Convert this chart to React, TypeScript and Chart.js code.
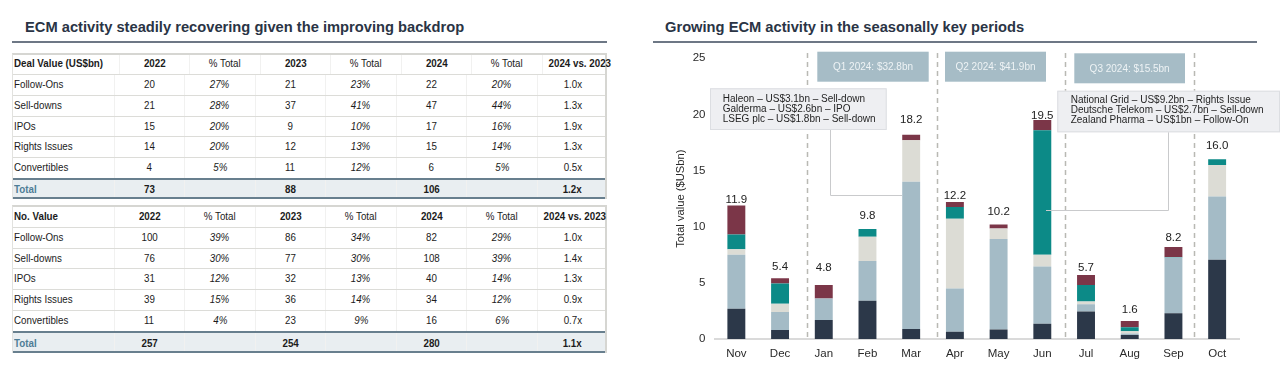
import React, { useEffect, useRef } from 'react';
import { Chart, registerables } from 'chart.js';
Chart.register(...registerables);

// ---------- Chart data ----------
const months = ['Nov', 'Dec', 'Jan', 'Feb', 'Mar', 'Apr', 'May', 'Jun', 'Jul', 'Aug', 'Sep', 'Oct'];
const followOns = [2.7, 0.8, 1.7, 3.4, 0.9, 0.65, 0.85, 1.35, 2.45, 0.35, 2.3, 7.05];
const sellDowns = [4.8, 1.6, 1.9, 3.55, 13.1, 3.85, 8.05, 5.1, 0.65, 0.15, 4.95, 5.65];
const ipos = [0.5, 0.75, 0, 2.15, 3.7, 6.2, 0.95, 1.05, 0.25, 0.2, 0, 2.8];
const rightsIssues = [1.3, 1.8, 0, 0.7, 0, 1.05, 0, 11.1, 1.45, 0.35, 0.05, 0.5];
const convertibles = [2.6, 0.45, 1.2, 0, 0.5, 0.45, 0.35, 0.9, 0.9, 0.55, 0.9, 0];
const totalLabels = ['11.9', '5.4', '4.8', '9.8', '18.2', '12.2', '10.2', '19.5', '5.7', '1.6', '8.2', '16.0'];
const yTicks = [0, 5, 10, 15, 20, 25];
const quarterLabels = ['Q1 2024: $32.8bn', 'Q2 2024: $41.9bn', 'Q3 2024: $15.5bn'];
const leftNotes = ['Haleon – US$3.1bn – Sell-down', 'Galderma – US$2.6bn – IPO', 'LSEG plc – US$1.8bn – Sell-down'];
const rightNotes = ['National Grid – US$9.2bn – Rights Issue', 'Deutsche Telekom – US$2.7bn – Sell-down', 'Zealand Pharma – US$1bn – Follow-On'];

// ---------- Table data ----------
const rowNames = ['Follow-Ons', 'Sell-downs', 'IPOs', 'Rights Issues', 'Convertibles'];
const dealV2022 = ['20', '21', '15', '14', '4'];
const dealP2022 = ['27%', '28%', '20%', '20%', '5%'];
const dealV2023 = ['21', '37', '9', '12', '11'];
const dealP2023 = ['23%', '41%', '10%', '13%', '12%'];
const dealV2024 = ['22', '47', '17', '15', '6'];
const dealP2024 = ['20%', '44%', '16%', '14%', '5%'];
const dealRatio = ['1.0x', '1.3x', '1.9x', '1.3x', '0.5x'];
const dealTotals = ['73', '88', '106', '1.2x'];

const noV2022 = ['100', '76', '31', '39', '11'];
const noP2022 = ['39%', '30%', '12%', '15%', '4%'];
const noV2023 = ['86', '77', '32', '36', '23'];
const noP2023 = ['34%', '30%', '13%', '14%', '9%'];
const noV2024 = ['82', '108', '40', '34', '16'];
const noP2024 = ['29%', '39%', '14%', '12%', '6%'];
const noRatio = ['1.0x', '1.4x', '1.3x', '0.9x', '0.7x'];
const noTotals = ['257', '254', '280', '1.1x'];

// ---------- Styles ----------
const SANS = '"Liberation Sans", Arial, sans-serif';
const colors = {
  followOns: '#2c3849',
  sellDowns: '#a4bbc6',
  ipos: '#dcdcd5',
  rights: '#0c8a87',
  conv: '#7b3648',
};
const labelGap = [2.5, 8.5, 14.5, 10, 11.5, 3.5, 9.5, 1, 4.5, 8.5, 5.5, 10];
const dividerIdx = [1.62, 4.58, 7.53, 10.46];

const colW = [100.7, 70.5, 70.5, 70.5, 70.5, 70.5, 70.5, 70.5];

type TableProps = {
  top: number;
  head: string;
  headH: number;
  rowH: number;
  totalH: number;
  v22: string[]; p22: string[]; v23: string[]; p23: string[]; v24: string[]; p24: string[]; ratio: string[];
  totals: string[];
};

function DataTable(p: TableProps) {
  const cell = (txt: string, i: number, extra: React.CSSProperties = {}) => (
    <div
      key={i}
      style={{
        flex: `0 0 ${colW[i]}px`,
        boxSizing: 'border-box',
        textAlign: i === 0 ? 'left' : 'center',
        paddingLeft: i === 0 ? 1 : 0,
        borderLeft: i === 0 ? 'none' : '1px solid #f1f1f0',
        whiteSpace: 'nowrap',
        overflow: 'visible',
        ...extra,
      }}
    >
      <span
        style={{
          display: 'inline-block',
          transform: 'scaleX(0.85)',
          transformOrigin: i === 0 ? 'left center' : 'center center',
        }}
      >
        {txt}
      </span>
    </div>
  );
  const rowStyle = (h: number, extra: React.CSSProperties = {}): React.CSSProperties => ({
    display: 'flex',
    height: h,
    lineHeight: `${h - 1.5}px`,
    boxSizing: 'border-box',
    ...extra,
  });
  return (
    <div
      style={{
        position: 'absolute',
        left: 12,
        top: p.top,
        width: 595,
        fontFamily: SANS,
        fontSize: 11.5,
        color: '#1b1b1b',
        borderTop: '2px solid #d6d6d2',
        borderLeft: '1px solid #e2e2df',
        borderRight: '2px solid #d6d6d2',
        boxSizing: 'border-box',
      }}
    >
      <div style={rowStyle(p.headH - 2)}>
        {cell(p.head, 0, { fontWeight: 'bold' })}
        {cell('2022', 1, { fontWeight: 'bold' })}
        {cell('% Total', 2)}
        {cell('2023', 3, { fontWeight: 'bold' })}
        {cell('% Total', 4)}
        {cell('2024', 5, { fontWeight: 'bold' })}
        {cell('% Total', 6)}
        {cell('2024 vs. 2023', 7, { fontWeight: 'bold' })}
      </div>
      {rowNames.map((name, r) => (
        <div key={name} style={rowStyle(p.rowH, { borderTop: '1.5px solid #dcdcd8' })}>
          {cell(name, 0)}
          {cell(p.v22[r], 1)}
          {cell(p.p22[r], 2, { fontStyle: 'italic' })}
          {cell(p.v23[r], 3)}
          {cell(p.p23[r], 4, { fontStyle: 'italic' })}
          {cell(p.v24[r], 5)}
          {cell(p.p24[r], 6, { fontStyle: 'italic' })}
          {cell(p.ratio[r], 7)}
        </div>
      ))}
      <div
        style={rowStyle(p.totalH, {
          borderTop: '2px solid #687f8e',
          borderBottom: '2px solid #687f8e',
          background: '#e9eef1',
          fontWeight: 'bold',
        })}
      >
        {cell('Total', 0, { color: '#4e7d96' })}
        {cell(p.totals[0], 1)}
        {cell('', 2)}
        {cell(p.totals[1], 3)}
        {cell('', 4)}
        {cell(p.totals[2], 5)}
        {cell('', 6)}
        {cell(p.totals[3], 7)}
      </div>
    </div>
  );
}

const overlayPlugin = {
  id: 'overlay',
  beforeDatasetsDraw(chart: any) {
    const { ctx, scales } = chart;
    const x = scales.x;
    ctx.save();
    ctx.strokeStyle = '#b9b9b3';
    ctx.lineWidth = 1.5;
    ctx.setLineDash([5, 4]);
    dividerIdx.forEach((d) => {
      const px = Math.round(x.getPixelForValue(d)) + 0.5;
      ctx.beginPath();
      ctx.moveTo(px, 53);
      ctx.lineTo(px, 338);
      ctx.stroke();
    });
    ctx.restore();
  },
  afterDatasetsDraw(chart: any) {
    const { ctx, scales } = chart;
    const x = scales.x;
    const y = scales.y;
    ctx.save();
    // connectors
    ctx.strokeStyle = '#c9cacc';
    ctx.lineWidth = 1;
    ctx.beginPath();
    ctx.moveTo(180.5, 130);
    ctx.lineTo(180.5, 195.5);
    ctx.lineTo(252, 195.5);
    ctx.stroke();
    ctx.beginPath();
    ctx.moveTo(518.5, 132);
    ctx.lineTo(518.5, 210.5);
    ctx.lineTo(396, 210.5);
    ctx.stroke();

    // quarter boxes
    const qBoxes = [
      [167.3, 51.7, 111.4, 30],
      [295, 51.7, 101, 30],
      [424.3, 53.3, 110.7, 30],
    ];
    ctx.font = `10px ${SANS}`;
    ctx.textAlign = 'center';
    ctx.textBaseline = 'middle';
    qBoxes.forEach((b, i) => {
      ctx.fillStyle = '#a6bcc6';
      ctx.fillRect(b[0], b[1], b[2], b[3]);
      ctx.fillStyle = '#eef3f5';
      ctx.fillText(quarterLabels[i], b[0] + b[2] / 2, b[1] + b[3] / 2 + 0.5);
    });

    // note boxes
    const drawNote = (bx: number, by: number, bw: number, bh: number, tx: number, lines: string[], ly: number[]) => {
      ctx.fillStyle = '#eeeff2';
      ctx.fillRect(bx, by, bw, bh);
      ctx.strokeStyle = '#dcdee2';
      ctx.lineWidth = 1;
      ctx.strokeRect(bx + 0.5, by + 0.5, bw - 1, bh - 1);
      ctx.fillStyle = '#1f1f1f';
      ctx.textAlign = 'left';
      ctx.textBaseline = 'middle';
      ctx.font = `10px ${SANS}`;
      lines.forEach((t, i) => ctx.fillText(t, tx, ly[i]));
    };
    drawNote(60, 88.3, 176.7, 41.7, 72.7, leftNotes, [98.9, 109.2, 119.3]);
    drawNote(407.3, 90.7, 222.7, 41.6, 420.7, rightNotes, [99.9, 110.2, 120.3]);

    // totals
    ctx.fillStyle = '#222';
    ctx.font = `11.5px ${SANS}`;
    ctx.textAlign = 'center';
    ctx.textBaseline = 'alphabetic';
    months.forEach((_, i) => {
      const sum = followOns[i] + sellDowns[i] + ipos[i] + rightsIssues[i] + convertibles[i];
      const px = x.getPixelForValue(i);
      const py = y.getPixelForValue(sum) - labelGap[i];
      ctx.fillText(totalLabels[i], px, py);
    });
    ctx.restore();
  },
};

export default function App() {
  const ref = useRef<HTMLCanvasElement>(null);
  useEffect(() => {
    if (!ref.current) return;
    const ds = (label: string, data: number[], color: string) => ({
      label,
      data,
      backgroundColor: color,
      borderWidth: 0,
      barPercentage: 0.41,
      categoryPercentage: 1,
    });
    const chart = new Chart(ref.current, {
      type: 'bar',
      data: {
        labels: months,
        datasets: [
          ds('Follow-Ons', followOns, colors.followOns),
          ds('Sell-downs', sellDowns, colors.sellDowns),
          ds('IPOs', ipos, colors.ipos),
          ds('Rights Issues', rightsIssues, colors.rights),
          ds('Convertibles', convertibles, colors.conv),
        ],
      },
      options: {
        responsive: false,
        animation: false,
        devicePixelRatio: 1,
        layout: { padding: { left: 0, right: 49, top: 58.3, bottom: 0 } },
        plugins: { legend: { display: false }, tooltip: { enabled: false } },
        scales: {
          x: {
            stacked: true,
            grid: { display: false, drawTicks: false, tickLength: 0 },
            border: { display: true, color: '#dadada', width: 2 },
            ticks: { color: '#2a2a2a', font: { size: 11.5, family: SANS }, padding: 8 },
            afterFit: (s: any) => {
              s.height = 41;
            },
          },
          y: {
            stacked: true,
            min: 0,
            max: 25,
            afterBuildTicks: (s: any) => {
              s.ticks = yTicks.map((v) => ({ value: v }));
            },
            grid: { display: false, drawTicks: false, tickLength: 0 },
            border: { display: false },
            ticks: { color: '#2a2a2a', font: { size: 11.5, family: SANS }, padding: 9 },
            title: {
              display: true,
              text: 'Total value ($USbn)',
              color: '#2a2a2a',
              font: { size: 11.2, family: SANS },
              padding: { top: 24, bottom: 0 },
            },
            afterFit: (s: any) => {
              s.width = 64.5;
            },
          },
        },
      },
      plugins: [overlayPlugin],
    } as any);
    return () => chart.destroy();
  }, []);

  const titleStyle: React.CSSProperties = {
    position: 'absolute',
    top: 19,
    fontFamily: SANS,
    fontWeight: 'bold',
    fontSize: 14.7,
    lineHeight: '16px',
    color: '#2a3445',
    whiteSpace: 'nowrap',
  };

  return (
    <div
      style={{
        position: 'fixed',
        left: 0,
        top: 0,
        width: 1288,
        height: 380,
        background: '#ffffff',
        overflow: 'hidden',
      }}
    >
      <div style={{ ...titleStyle, left: 25 }}>ECM activity steadily recovering given the improving backdrop</div>
      <div style={{ position: 'absolute', left: 12, top: 41, width: 595, height: 1.5, background: '#6d7785' }} />
      <DataTable
        top={53.3}
        head="Deal Value (US$bn)"
        headH={20.8}
        rowH={20.8}
        totalH={20.8}
        v22={dealV2022} p22={dealP2022} v23={dealV2023} p23={dealP2023} v24={dealV2024} p24={dealP2024}
        ratio={dealRatio}
        totals={dealTotals}
      />
      <DataTable
        top={205}
        head="No. Value"
        headH={21.7}
        rowH={20.86}
        totalH={21.7}
        v22={noV2022} p22={noP2022} v23={noV2023} p23={noP2023} v24={noV2024} p24={noP2024}
        ratio={noRatio}
        totals={noTotals}
      />
      <div style={{ ...titleStyle, left: 665 }}>Growing ECM activity in the seasonally key periods</div>
      <div style={{ position: 'absolute', left: 652.7, top: 41, width: 604.3, height: 1.5, background: '#6d7785' }} />
      <canvas
        ref={ref}
        width={638}
        height={380}
        style={{ position: 'absolute', left: 650, top: 0, width: 638, height: 380 }}
      />
    </div>
  );
}
